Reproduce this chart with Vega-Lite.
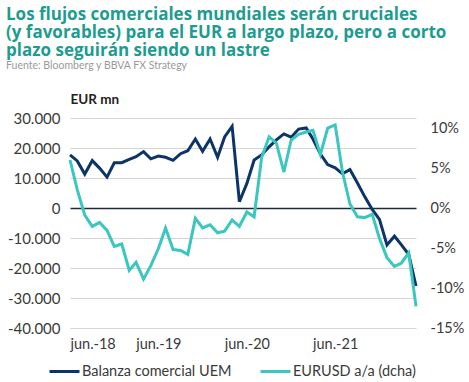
{
  "$schema": "https://vega.github.io/schema/vega-lite/v6.json",
  "width": 346,
  "height": 210,
  "autosize": {"type": "none"},
  "padding": {"left": 70, "top": 118, "right": 53, "bottom": 54},
  "config": {"view": {"stroke": null}, "font": "Lato"},
  "title": {
    "text": ["Los flujos comerciales mundiales serán cruciales", "(y favorables) para el EUR a largo plazo, pero a corto", "plazo seguirán siendo un lastre"],
    "subtitle": "Fuente: Bloomberg y BBVA FX Strategy",
    "anchor": "start",
    "frame": "group",
    "dx": -64,
    "offset": 20,
    "font": "Open Sans",
    "fontSize": 17,
    "fontWeight": "bold",
    "color": "#1d9c8f",
    "lineHeight": 18,
    "subtitleFont": "Lato",
    "subtitleFontSize": 10.5,
    "subtitleColor": "#9a9a9a",
    "subtitlePadding": 1
  },
  "data": {
    "values": [
      {"date": "2018-06-01", "bal": 17700, "fx": 6.0},
      {"date": "2018-07-01", "bal": 15700, "fx": 2.3},
      {"date": "2018-08-01", "bal": 11300, "fx": -0.9},
      {"date": "2018-09-01", "bal": 15800, "fx": -2.3},
      {"date": "2018-10-01", "bal": 13300, "fx": -1.8},
      {"date": "2018-11-01", "bal": 10300, "fx": -2.8},
      {"date": "2018-12-01", "bal": 15100, "fx": -4.8},
      {"date": "2019-01-01", "bal": 15100, "fx": -4.5},
      {"date": "2019-02-01", "bal": 16200, "fx": -7.8},
      {"date": "2019-03-01", "bal": 17100, "fx": -6.8},
      {"date": "2019-04-01", "bal": 18800, "fx": -8.9},
      {"date": "2019-05-01", "bal": 16400, "fx": -7.2},
      {"date": "2019-06-01", "bal": 17300, "fx": -5.1},
      {"date": "2019-07-01", "bal": 16900, "fx": -2.5},
      {"date": "2019-08-01", "bal": 15900, "fx": -5.2},
      {"date": "2019-09-01", "bal": 18100, "fx": -5.3},
      {"date": "2019-10-01", "bal": 19100, "fx": -5.8},
      {"date": "2019-11-01", "bal": 23000, "fx": -1.3},
      {"date": "2019-12-01", "bal": 18900, "fx": -2.5},
      {"date": "2020-01-01", "bal": 23000, "fx": -2.1},
      {"date": "2020-02-01", "bal": 16900, "fx": -3.1},
      {"date": "2020-03-01", "bal": 23700, "fx": -2.9},
      {"date": "2020-04-01", "bal": 27200, "fx": -1.5},
      {"date": "2020-05-01", "bal": 2100, "fx": -2.3},
      {"date": "2020-06-01", "bal": 8200, "fx": -0.5},
      {"date": "2020-07-01", "bal": 16000, "fx": -1.1},
      {"date": "2020-08-01", "bal": 17700, "fx": 6.3},
      {"date": "2020-09-01", "bal": 20400, "fx": 8.9},
      {"date": "2020-10-01", "bal": 22700, "fx": 8.1},
      {"date": "2020-11-01", "bal": 24700, "fx": 4.5},
      {"date": "2020-12-01", "bal": 23600, "fx": 8.5},
      {"date": "2021-01-01", "bal": 26300, "fx": 9.2},
      {"date": "2021-02-01", "bal": 26700, "fx": 9.5},
      {"date": "2021-03-01", "bal": 23000, "fx": 9.7},
      {"date": "2021-04-01", "bal": 18000, "fx": 6.7},
      {"date": "2021-05-01", "bal": 14500, "fx": 10.0},
      {"date": "2021-06-01", "bal": 13400, "fx": 10.4},
      {"date": "2021-07-01", "bal": 11400, "fx": 4.5},
      {"date": "2021-08-01", "bal": 12800, "fx": 0.5},
      {"date": "2021-09-01", "bal": 8300, "fx": -1.1},
      {"date": "2021-10-01", "bal": 3800, "fx": -1.2},
      {"date": "2021-11-01", "bal": -500, "fx": -0.8},
      {"date": "2021-12-01", "bal": -3800, "fx": -3.8},
      {"date": "2022-01-01", "bal": -12300, "fx": -6.2},
      {"date": "2022-02-01", "bal": -9400, "fx": -7.3},
      {"date": "2022-03-01", "bal": -12200, "fx": -6.9},
      {"date": "2022-04-01", "bal": -15500, "fx": -5.6},
      {"date": "2022-05-01", "bal": -26000, "fx": -12.3}
    ]
  },
  "encoding": {
    "x": {
      "field": "date",
      "type": "temporal",
      "scale": {"domain": [{"year": 2018, "month": 6, "date": 1}, {"year": 2022, "month": 5, "date": 1}]},
      "axis": {
        "title": null,
        "values": [{"year": 2018, "month": 6, "date": 1}, {"year": 2019, "month": 6, "date": 1}, {"year": 2020, "month": 6, "date": 1}, {"year": 2021, "month": 6, "date": 1}],
        "labelExpr": "'jun.-' + timeFormat(datum.value, '%y')",
        "domain": false,
        "ticks": false,
        "grid": false,
        "labelFont": "Lato",
        "labelFontSize": 14.5,
        "labelColor": "#3a3a3a",
        "labelPadding": 9,
        "labelOverlap": false
      }
    }
  },
  "layer": [
    {
      "mark": {"type": "line", "strokeWidth": 3},
      "encoding": {
        "y": {
          "field": "bal",
          "type": "quantitative",
          "scale": {"domain": [-40000, 30000], "nice": false, "zero": false},
          "axis": {
            "title": "EUR mn",
            "titleAngle": 0,
            "titleAlign": "left",
            "titleBaseline": "alphabetic",
            "titleX": 0,
            "titleY": -15,
            "titleFont": "Lato",
            "titleFontSize": 13.5,
            "titleFontWeight": "bold",
            "titleColor": "#222222",
            "values": [-40000, -30000, -20000, -10000, 0, 10000, 20000, 30000],
            "labelExpr": "(datum.value < 0 ? '-' : '') + replace(format(abs(datum.value), ','), ',', '.')",
            "labelOverlap": false,
            "domain": false,
            "ticks": false,
            "grid": true,
            "gridColor": {"condition": {"test": "datum.value === 0", "value": "#1c2b3c"}, "value": "#d6d6d6"},
            "gridWidth": {"condition": {"test": "datum.value === 0", "value": 1.6}, "value": 1.2},
            "labelFont": "Lato",
            "labelFontSize": 15,
            "labelColor": "#3a3a3a",
            "labelPadding": 10
          }
        },
        "color": {
          "datum": "Balanza comercial UEM",
          "type": "nominal",
          "scale": {"domain": ["Balanza comercial UEM", "EURUSD a/a (dcha)"], "range": ["#0c3468", "#3cc6c0"]},
          "legend": {
            "title": null,
            "orient": "none",
            "legendX": -22,
            "legendY": 237,
            "direction": "horizontal",
            "symbolType": "stroke",
            "symbolSize": 900,
            "symbolStrokeWidth": 3,
            "labelFont": "Lato",
            "labelFontSize": 14.5,
            "labelColor": "#3a3a3a",
            "labelOffset": 1,
            "columnPadding": 22
          }
        }
      }
    },
    {
      "mark": {"type": "line", "strokeWidth": 3},
      "encoding": {
        "y": {
          "field": "fx",
          "type": "quantitative",
          "scale": {"domain": [-15, 11.25], "nice": false, "zero": false},
          "axis": {
            "orient": "right",
            "title": null,
            "values": [-15, -10, -5, 0, 5, 10],
            "labelExpr": "(datum.value < 0 ? '-' : '') + abs(datum.value) + '%'",
            "labelOverlap": false,
            "domain": false,
            "ticks": false,
            "grid": false,
            "labelFont": "Lato",
            "labelFontSize": 14.5,
            "labelColor": "#3a3a3a",
            "labelPadding": 14
          }
        },
        "color": {"datum": "EURUSD a/a (dcha)", "type": "nominal"}
      }
    }
  ],
  "resolve": {"scale": {"y": "independent"}}
}
